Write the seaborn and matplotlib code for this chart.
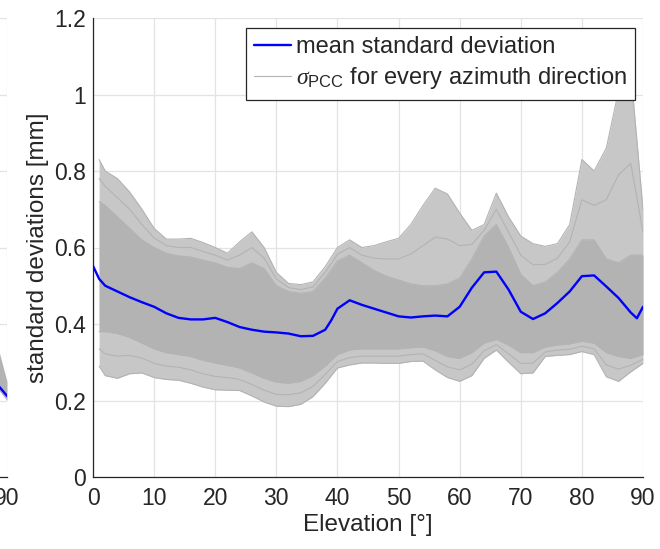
import matplotlib
matplotlib.use("Agg")
import matplotlib.pyplot as plt
import seaborn as sns

# ---------------- data ----------------
# elevation grid of the per-azimuth sigma_PCC bundle
gray_elev = [1] + list(range(2, 91, 2))

# outer envelope of the bundle
sigma_upper = [0.83, 0.80, 0.78, 0.745, 0.70, 0.65, 0.622, 0.622, 0.624, 0.613,
               0.60, 0.585, 0.615, 0.641, 0.60, 0.535, 0.506, 0.503, 0.51, 0.55,
               0.60, 0.62, 0.60, 0.605, 0.615, 0.624, 0.66, 0.71, 0.755, 0.74,
               0.69, 0.645, 0.66, 0.742, 0.68, 0.63, 0.61, 0.603, 0.61, 0.66,
               0.83, 0.80, 0.86, 1.01, 1.06, 0.70]
sigma_lower = [0.29, 0.265, 0.258, 0.27, 0.272, 0.26, 0.255, 0.253, 0.245, 0.235,
               0.228, 0.227, 0.226, 0.212, 0.196, 0.185, 0.184, 0.19, 0.21, 0.245,
               0.285, 0.293, 0.298, 0.298, 0.297, 0.297, 0.302, 0.303, 0.28, 0.26,
               0.25, 0.265, 0.31, 0.332, 0.30, 0.27, 0.272, 0.315, 0.318, 0.32,
               0.328, 0.32, 0.262, 0.25, 0.275, 0.297]
# densely packed core of the bundle
core_hi = [0.72, 0.71, 0.68, 0.65, 0.62, 0.60, 0.585, 0.578, 0.575, 0.567,
           0.56, 0.548, 0.545, 0.56, 0.545, 0.50, 0.485, 0.48, 0.485, 0.52,
           0.565, 0.58, 0.56, 0.54, 0.525, 0.515, 0.505, 0.50, 0.50, 0.505,
           0.52, 0.57, 0.63, 0.66, 0.60, 0.53, 0.50, 0.51, 0.535, 0.57,
           0.62, 0.62, 0.57, 0.56, 0.58, 0.58]
core_lo = [0.38, 0.38, 0.375, 0.365, 0.35, 0.335, 0.325, 0.32, 0.315, 0.305,
           0.298, 0.292, 0.285, 0.272, 0.258, 0.248, 0.245, 0.25, 0.265, 0.29,
           0.32, 0.332, 0.335, 0.335, 0.335, 0.335, 0.338, 0.34, 0.33, 0.315,
           0.31, 0.325, 0.35, 0.36, 0.345, 0.325, 0.325, 0.34, 0.345, 0.348,
           0.355, 0.35, 0.325, 0.315, 0.31, 0.32]
# individual curves in the sparse parts of the bundle
sigma_mid_hi = [0.78, 0.76, 0.73, 0.70, 0.66, 0.625, 0.605, 0.60, 0.60, 0.59,
                0.58, 0.567, 0.58, 0.60, 0.572, 0.518, 0.495, 0.49, 0.497, 0.535,
                0.582, 0.60, 0.58, 0.572, 0.57, 0.57, 0.583, 0.605, 0.627, 0.622,
                0.605, 0.608, 0.645, 0.70, 0.64, 0.58, 0.555, 0.556, 0.572, 0.615,
                0.725, 0.71, 0.725, 0.79, 0.82, 0.64]
sigma_mid_lo = [0.335, 0.322, 0.316, 0.318, 0.311, 0.297, 0.29, 0.287, 0.28, 0.27,
                0.263, 0.26, 0.255, 0.242, 0.227, 0.216, 0.215, 0.22, 0.237, 0.268,
                0.302, 0.312, 0.316, 0.316, 0.316, 0.316, 0.32, 0.322, 0.305, 0.288,
                0.28, 0.295, 0.33, 0.346, 0.322, 0.297, 0.298, 0.327, 0.332, 0.334,
                0.342, 0.335, 0.293, 0.282, 0.292, 0.308]

# mean standard deviation
mean_elev = [0, 1, 2, 4, 6, 8, 10, 12, 14, 16, 18, 20, 22, 24, 26, 28, 30, 32, 34,
             36, 38, 39, 40, 42, 44, 46, 48, 50, 52, 54, 56, 58, 60, 62, 64, 66,
             68, 70, 72, 74, 76, 78, 80, 82, 84, 86, 88, 89, 90]
mean_std = [0.552, 0.518, 0.50, 0.485, 0.47, 0.457, 0.445, 0.428, 0.416, 0.412,
            0.412, 0.416, 0.405, 0.392, 0.385, 0.38, 0.378, 0.375, 0.368,
            0.369, 0.385, 0.41, 0.44, 0.462, 0.45, 0.44, 0.43, 0.42, 0.417,
            0.42, 0.422, 0.42, 0.445, 0.495, 0.535, 0.537, 0.49, 0.432, 0.413,
            0.428, 0.455, 0.485, 0.525, 0.527, 0.498, 0.468, 0.43, 0.415, 0.445]

# neighbouring (cropped) subplot, only its right end is visible
left_elev = [88, 90]
left_mean = [0.25, 0.212]
left_hi = [0.37, 0.25]
left_lo = [0.24, 0.20]

x_ticks = [0, 10, 20, 30, 40, 50, 60, 70, 80, 90]
y_ticks = [0, 0.2, 0.4, 0.6, 0.8, 1.0, 1.2]
y_tick_labels = ["0", "0.2", "0.4", "0.6", "0.8", "1", "1.2"]
legend_labels = ["mean standard deviation",
                 r"$\sigma_{\mathrm{PCC}}$ for every azimuth direction"]

# ---------------- style ----------------
sns.set_theme(style="white")
plt.rcParams["font.family"] = ["Liberation Sans", "DejaVu Sans"]
plt.rcParams["mathtext.fontset"] = "custom"
plt.rcParams["mathtext.rm"] = "Liberation Sans"
plt.rcParams["mathtext.it"] = "Liberation Serif:italic"

AX_COL = "#262626"
GRID_COL = "#e3e3e3"
GRAY = "#b3b3b3"
LACE = "#c7c7c7"
BLUE = "#0000ff"

W, H = 660, 549
fig = plt.figure(figsize=(W / 100, H / 100), dpi=100)
ax = fig.add_axes([93 / W, 72 / H, 550 / W, 459 / H])
axL = fig.add_axes([(7 - 550) / W, 72 / H, 550 / W, 459 / H])


def style(a):
    a.set_xlim(0, 90)
    a.set_ylim(0, 1.2)
    a.set_xticks(x_ticks)
    a.set_xticklabels([str(t) for t in x_ticks])
    a.set_yticks(y_ticks)
    a.set_yticklabels(y_tick_labels)
    a.grid(True, color=GRID_COL, linewidth=0.9)
    a.set_axisbelow(True)
    for s in ["top", "right"]:
        a.spines[s].set_visible(False)
    for s in ["left", "bottom"]:
        a.spines[s].set_color(AX_COL)
        a.spines[s].set_linewidth(0.9)
    a.tick_params(direction="in", length=5, width=0.9, color=AX_COL,
                  labelcolor=AX_COL, labelsize=16.5)
    a.tick_params(axis="x", pad=7)
    a.tick_params(axis="y", pad=5)
    a.set_facecolor("white")


style(ax)
style(axL)
# only the last x tick label of the cropped neighbour is inside the picture
axL.set_xticklabels([""] * (len(x_ticks) - 1) + [str(x_ticks[-1])])
axL.set_yticklabels([""] * len(y_ticks))

# ---------------- bundle ----------------
ax.fill_between(gray_elev, sigma_lower, sigma_upper, color=LACE, lw=0, zorder=1)
ax.fill_between(gray_elev, core_lo, core_hi, color=GRAY, lw=0, zorder=1.2)
for arr in [sigma_upper, sigma_lower, sigma_mid_hi, sigma_mid_lo, core_hi, core_lo]:
    sns.lineplot(x=gray_elev, y=arr, ax=ax, color=GRAY, lw=0.8, zorder=1.5,
                 legend=False, sort=False)

sns.lineplot(x=mean_elev, y=mean_std, ax=ax, color=BLUE, lw=1.7, zorder=3,
             legend=False, sort=False)

# cropped left subplot
axL.fill_between(left_elev, left_lo, left_hi, color=GRAY, lw=0, zorder=1.2)
sns.lineplot(x=left_elev, y=left_mean, ax=axL, color=BLUE, lw=1.7, zorder=3,
             legend=False, sort=False)

# ---------------- labels ----------------
ax.set_xlabel("Elevation [°]", fontsize=17.5, color=AX_COL, labelpad=3)
ax.set_ylabel("standard deviations [mm]", fontsize=17.5, color=AX_COL, labelpad=4)

blue_line = ax.lines[-1]
gray_line = ax.lines[0]
leg = ax.legend([blue_line, gray_line], legend_labels, loc="upper right",
                bbox_to_anchor=(0.9855, 0.978), borderaxespad=0, fontsize=17,
                frameon=True, fancybox=False, edgecolor=AX_COL, framealpha=1,
                facecolor="white", handlelength=1.55, handletextpad=0.2,
                borderpad=0.35, labelspacing=0.3)
leg.get_frame().set_linewidth(0.9)
leg.set_zorder(10)

fig.savefig("out.png", dpi=100, facecolor="white")
